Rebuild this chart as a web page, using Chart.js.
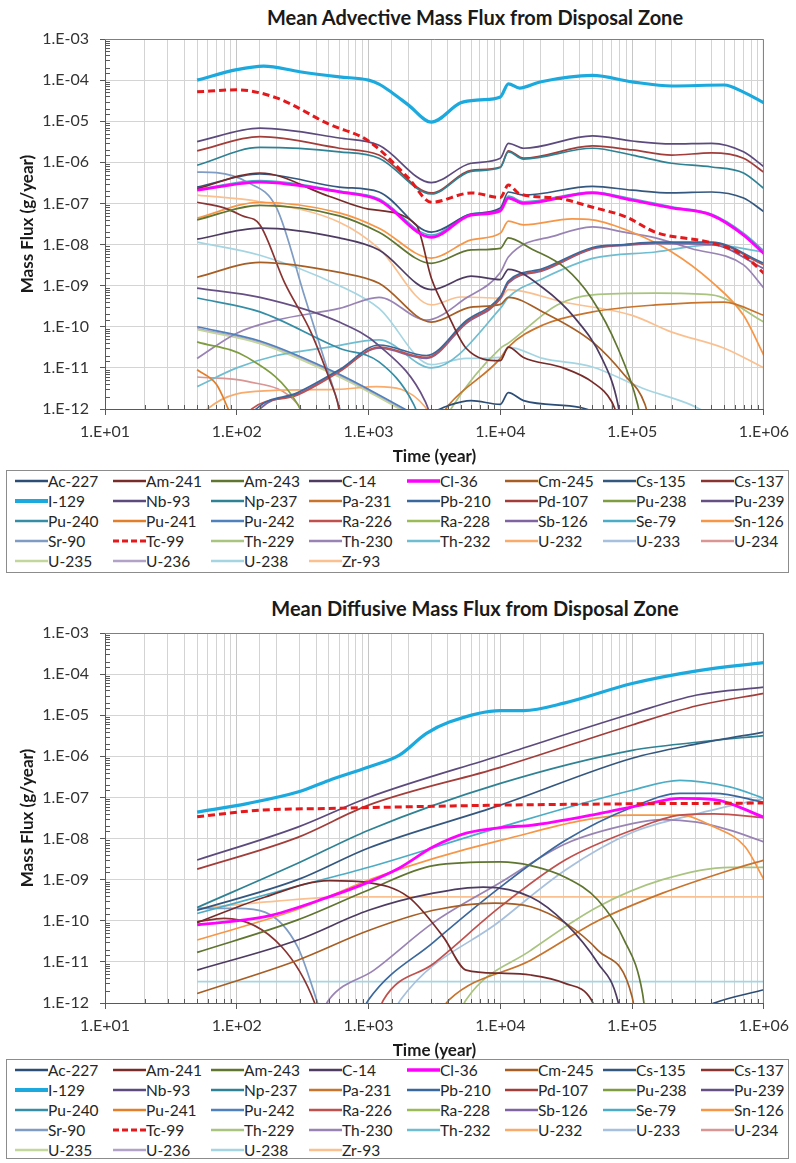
<!DOCTYPE html>
<html>
<head>
<meta charset="utf-8">
<script src="https://cdn.jsdelivr.net/npm/chart.js@4.4.1/dist/chart.umd.min.js"></script>
<style>
  html, body { margin: 0; padding: 0; background: #fff; }
  body { width: 796px; height: 1163px; position: relative; overflow: hidden;
         font-family: Lato, "Open Sans", sans-serif; color: #262626; }
  .title { position: absolute; left: 475px; transform: translateX(-50%); white-space: nowrap;
           font-weight: bold; font-size: 20px; line-height: 24px; color: #1a1a1a; }
  .wrap { position: absolute; left: 0; width: 796px; height: 470px; }
  .legend { position: absolute; left: 6px; width: 783px; border: 1px solid #8c8c8c; box-sizing: border-box; background: #fff; }
  .item { position: absolute; display: flex; align-items: center; height: 18px;
          font-size: 15.5px; white-space: nowrap; }
  .item svg { display: block; }
</style>
</head>
<body>
<div class="title" style="top:5px">Mean Advective Mass Flux from Disposal Zone</div>
<div class="wrap" style="top:0"><canvas id="advChart" width="796" height="470"></canvas></div>
<div class="legend" id="advLegend" style="top:470px;height:103px"></div>

<div class="title" style="top:596px">Mean Diffusive Mass Flux from Disposal Zone</div>
<div class="wrap" style="top:594px"><canvas id="difChart" width="796" height="470"></canvas></div>
<div class="legend" id="difLegend" style="top:1059px;height:100px"></div>

<script>
// nuclides, in legend order
const nuclides = ['Ac-227', 'Am-241', 'Am-243', 'C-14', 'Cl-36', 'Cm-245', 'Cs-135', 'Cs-137',
    'I-129', 'Nb-93', 'Np-237', 'Pa-231', 'Pb-210', 'Pd-107', 'Pu-238', 'Pu-239',
    'Pu-240', 'Pu-241', 'Pu-242', 'Ra-226', 'Ra-228', 'Sb-126', 'Se-79', 'Sn-126',
    'Sr-90', 'Tc-99', 'Th-229', 'Th-230', 'Th-232', 'U-232', 'U-233', 'U-234',
    'U-235', 'U-236', 'U-238', 'Zr-93'];

const colors = ['#2c4d75', '#772c2a', '#5f7530', '#4d3b62', '#ff00ff', '#a65e24', '#34577f', '#8a3432',
    '#1ba9de', '#5c4a7d', '#2e8294', '#c8742c', '#3a679c', '#a23d3a', '#7e9c40', '#664f83',
    '#358ea6', '#e37f2b', '#4f81bd', '#c0504d', '#9bbb59', '#8064a2', '#4bacc6', '#f79646',
    '#7f9cc4', '#e3191c', '#a9c47f', '#9983b5', '#6fbdd1', '#f9ab6b', '#a7c0de', '#d99694',
    '#c3d69b', '#b2a2c7', '#a5d5e2', '#fac090'];

// tick labels
const timeDecades = [1e1, 1e2, 1e3, 1e4, 1e5, 1e6];
const timeLabels = ['1.E+01', '1.E+02', '1.E+03', '1.E+04', '1.E+05', '1.E+06'];
const fluxDecades = [1e-12, 1e-11, 1e-10, 1e-9, 1e-8, 1e-7, 1e-6, 1e-5, 1e-4, 1e-3];
const fluxLabels = ['1.E-12', '1.E-11', '1.E-10', '1.E-09', '1.E-08', '1.E-07', '1.E-06', '1.E-05', '1.E-04', '1.E-03'];

// ---- advective mass flux, [year, g/year] ----
const advAc227 = [[3000, 8e-13], [4000, 1.2e-12], [6000, 1.6e-12], [10000, 1.3e-12], [11500, 2.5e-12], [15000, 1.6e-12], [40000, 1.1e-12], [55000, 8e-13]];
const advAm241 = [[50, 2.3e-7], [150, 5.5e-7], [500, 1.5e-7], [1000, 7.3e-8], [2300, 3e-8], [3000, 1.5e-9], [4000, 2e-10], [5500, 3e-11], [10000, 1.5e-11], [11500, 3.2e-11], [15000, 1.8e-11], [30000, 1e-11], [50000, 4.5e-12], [70000, 1.5e-12], [85000, 3e-13]];
const advAm243 = [[50, 4e-8], [150, 9e-8], [600, 5e-8], [1200, 2e-8], [3000, 3.5e-9], [6000, 7.4e-9], [10000, 8.1e-9], [11500, 1.45e-8], [17000, 8e-9], [31000, 2.7e-9], [49000, 5e-10], [78000, 3e-11], [110000, 1.3e-12], [120000, 3e-13]];
const advC14 = [[50, 1.35e-8], [150, 2.5e-8], [600, 1.45e-8], [1200, 7.4e-9], [3000, 8e-10], [6000, 1.7e-9], [10000, 1.4e-9], [11500, 2.5e-9], [21000, 8.9e-10], [37000, 1.6e-10], [59000, 1.7e-11], [78000, 1.3e-12], [85000, 2e-13]];
const advCl36 = [[50, 2.1e-7], [150, 3.3e-7], [600, 1.9e-7], [1200, 1.2e-7], [3000, 1.5e-8], [6000, 5.2e-8], [10000, 6.6e-8], [11500, 1.35e-7], [15000, 1e-7], [50000, 1.8e-7], [100000, 1.2e-7], [200000, 7.8e-8], [400000, 5.2e-8], [700000, 1.7e-8], [1000000, 6e-9]];
const advCm245 = [[50, 1.6e-9], [150, 3.7e-9], [600, 2.1e-9], [1200, 1.15e-9], [3000, 1.3e-10], [6000, 3e-10], [10000, 3.5e-10], [11500, 5.2e-10], [21000, 2.3e-10], [50000, 4.3e-11], [87000, 6.8e-12], [125000, 1.3e-12], [140000, 3e-13]];
const advCs135 = [[50, 2.5e-7], [150, 5.2e-7], [600, 2.5e-7], [1200, 1.9e-7], [3000, 2e-8], [6000, 5.5e-8], [10000, 7.8e-8], [11500, 1.9e-7], [15000, 1.6e-7], [50000, 2.6e-7], [100000, 2.1e-7], [200000, 1.8e-7], [400000, 1.9e-7], [700000, 1.35e-7], [1000000, 6.3e-8]];
const advCs137 = [[50, 1.07e-7], [80, 7.8e-8], [110, 5e-8], [150, 3e-8], [230, 1.2e-9], [365, 7.4e-11], [515, 4.5e-12], [580, 1.5e-12], [650, 2e-13]];
const advI129 = [[50, 1e-4], [100, 1.8e-4], [160, 2.2e-4], [300, 1.6e-4], [600, 1.2e-4], [1000, 1e-4], [1200, 8e-5], [1500, 5e-5], [2000, 2.5e-5], [3000, 9.5e-6], [5000, 2.8e-5], [7000, 3.3e-5], [10000, 3.9e-5], [11500, 8.1e-5], [14000, 6.4e-5], [20000, 9e-5], [50000, 1.3e-4], [100000, 9.1e-5], [200000, 7.2e-5], [500000, 7.6e-5], [700000, 5.1e-5], [1000000, 2.8e-5]];
const advNb93 = [[50, 3.2e-6], [150, 6.8e-6], [600, 3.9e-6], [1200, 2.6e-6], [3000, 3.2e-7], [6000, 9.5e-7], [10000, 1.26e-6], [11500, 2.9e-6], [15000, 2.2e-6], [50000, 4.4e-6], [100000, 3.3e-6], [200000, 2.8e-6], [400000, 2.9e-6], [700000, 1.8e-6], [1000000, 7.8e-7]];
const advNp237 = [[50, 8.5e-7], [150, 2.3e-6], [600, 1.8e-6], [1200, 1.26e-6], [3000, 1.7e-7], [6000, 6e-7], [10000, 7.5e-7], [11500, 1.8e-6], [15000, 1.2e-6], [50000, 2.2e-6], [100000, 1.5e-6], [200000, 9.5e-7], [400000, 7.7e-7], [700000, 5.5e-7], [1000000, 2.3e-7]];
const advPa231 = [[3000, 3e-13], [4100, 1.3e-12], [10000, 1.7e-11], [11500, 3.2e-11], [21000, 1.1e-10], [50000, 2.3e-10], [150000, 3.4e-10], [500000, 4e-10], [1000000, 1.9e-10]];
const advPb210 = [[110, 3e-13], [140, 1e-12], [290, 2.5e-12], [600, 9e-12], [1200, 3.6e-11], [2750, 2e-11], [5500, 1.4e-10], [10000, 5.5e-10], [11500, 1.3e-9], [21000, 2.6e-9], [50000, 8.5e-9], [87000, 1e-8], [150000, 1.15e-8], [400000, 1.15e-8], [1000000, 3.5e-9]];
const advPd107 = [[50, 1.9e-6], [150, 4.2e-6], [600, 2.2e-6], [1200, 1.5e-6], [3000, 1.8e-7], [6000, 6.4e-7], [10000, 7.7e-7], [11500, 1.9e-6], [15000, 1.26e-6], [50000, 2.5e-6], [100000, 2e-6], [200000, 1.5e-6], [400000, 1.7e-6], [700000, 1.26e-6], [1000000, 5.7e-7]];
const advPu238 = [[50, 4.3e-11], [120, 1.8e-11], [290, 1.3e-12], [350, 3e-13]];
const advPu239 = [[50, 8.7e-10], [150, 5.2e-10], [600, 1.3e-10], [1200, 3.5e-11], [2700, 1.5e-12], [3200, 3e-13]];
const advPu240 = [[50, 5e-10], [150, 2.3e-10], [600, 3e-11], [1200, 1.4e-11], [2200, 1.3e-12], [2600, 3e-13]];
const advPu241 = [[50, 9e-12], [70, 4e-12], [85, 1.1e-12], [100, 3e-13]];
const advPu242 = [[50, 1e-10], [150, 4.5e-11], [600, 7e-12], [1200, 2.2e-12], [2500, 6e-13]];
const advRa226 = [[100, 3e-13], [130, 1e-12], [290, 2.2e-12], [600, 8e-12], [1200, 3.2e-11], [2750, 1.8e-11], [5500, 1.3e-10], [10000, 5e-10], [11500, 1.2e-9], [21000, 2.4e-9], [50000, 8.1e-9], [87000, 9.8e-9], [150000, 1.1e-8], [400000, 1.1e-8], [1000000, 3.2e-9]];
const advRa228 = [];
const advSb126 = [[120, 3e-13], [150, 1e-12], [300, 2.4e-12], [600, 8.5e-12], [1200, 3e-11], [2750, 1.7e-11], [5500, 1.2e-10], [10000, 4.8e-10], [11500, 1.15e-9], [21000, 2.3e-9], [50000, 7.8e-9], [87000, 9.5e-9], [150000, 1.05e-8], [400000, 1e-8], [1000000, 2.6e-9]];
const advSe79 = [[50, 2.2e-7], [150, 3.6e-7], [600, 2e-7], [1200, 1.3e-7], [3000, 1.7e-8], [6000, 5.6e-8], [10000, 7.2e-8], [11500, 1.5e-7], [15000, 1.1e-7], [50000, 1.9e-7], [100000, 1.3e-7], [200000, 8.3e-8], [400000, 5.5e-8], [700000, 1.9e-8], [1000000, 7e-9]];
const advSn126 = [[50, 4.4e-8], [150, 1.07e-7], [600, 5.9e-8], [1200, 2.5e-8], [3000, 4.7e-9], [6000, 1.3e-8], [10000, 1.9e-8], [11500, 3.7e-8], [15000, 3e-8], [35000, 4.2e-8], [50000, 4e-8], [100000, 2e-8], [200000, 6.6e-9], [400000, 1.25e-9], [700000, 1.9e-10], [1000000, 2e-11]];
const advSr90 = [[50, 5.8e-7], [70, 5.6e-7], [120, 3.3e-7], [200, 7.9e-8], [330, 5e-10], [500, 7e-12], [650, 5e-13]];
const advTc99 = [[50, 5.2e-5], [100, 5.8e-5], [200, 3.7e-5], [500, 8.5e-6], [1000, 3.3e-6], [2000, 4.2e-7], [3000, 1.07e-7], [6000, 1.8e-7], [10000, 1.4e-7], [11500, 2.8e-7], [14000, 1.7e-7], [27000, 1.35e-7], [50000, 8.1e-8], [90000, 4.7e-8], [150000, 2e-8], [400000, 1.1e-8], [700000, 5.5e-9], [1000000, 2e-9]];
const advTh229 = [[3500, 3e-13], [4300, 1.1e-12], [10000, 3e-11], [11500, 4e-11], [27000, 3.4e-10], [50000, 6e-10], [150000, 6.6e-10], [400000, 6e-10], [1000000, 1.3e-10]];
const advTh230 = [[50, 1.7e-11], [100, 7e-11], [200, 1.45e-10], [600, 2.8e-10], [1200, 5.2e-10], [2750, 1.45e-10], [5500, 5e-10], [10000, 2.1e-9], [11500, 5e-9], [27000, 1.7e-8], [50000, 2.7e-8], [87000, 2e-8], [150000, 1.45e-8], [280000, 8e-9], [700000, 3.2e-9], [1000000, 8.7e-10]];
const advTh232 = [[50, 3.5e-12], [100, 1e-11], [200, 2e-11], [500, 3.2e-11], [1200, 4.8e-11], [3000, 1e-11], [10000, 2.8e-10], [11500, 5.2e-10], [21000, 1.5e-9], [50000, 4.6e-9], [150000, 6.6e-9], [400000, 9.8e-9], [1000000, 6.6e-9]];
const advU232 = [[50, 3e-13], [60, 1e-12], [180, 2.8e-12], [580, 3e-12], [1150, 3.5e-12], [2700, 1.1e-12], [3000, 5e-13]];
const advU233 = [];
const advU234 = [[50, 6e-12], [120, 4.7e-12], [290, 1.3e-12], [350, 4e-13]];
const advU235 = [[50, 8.5e-11], [150, 3.9e-11], [600, 6e-12], [1200, 1.9e-12], [2500, 5e-13]];
const advU236 = [[50, 9e-11], [150, 4.2e-11], [600, 6.5e-12], [1200, 2e-12], [2500, 5.5e-13]];
const advU238 = [[50, 1.15e-8], [150, 5.5e-9], [600, 1e-9], [1200, 2.8e-10], [3000, 1.2e-11], [5500, 1.7e-11], [10000, 1.8e-11], [11500, 3.2e-11], [21000, 1.7e-11], [50000, 1.05e-11], [120000, 3.2e-12], [280000, 1.26e-12], [400000, 7e-13]];
const advZr93 = [[50, 1.6e-7], [150, 1.1e-7], [600, 3.5e-8], [1200, 8e-9], [3000, 3.4e-10], [5000, 5.3e-10], [10000, 5e-10], [11500, 8e-10], [30000, 4e-10], [100000, 1.9e-10], [200000, 7.4e-11], [500000, 3e-11], [1000000, 1e-11]];

// ---- diffusive mass flux, [year, g/year] ----
const difAc227 = [[300000, 6e-13], [420000, 1e-12], [1000000, 2.1e-12]];
const difAm241 = [[50, 9e-11], [165, 3.8e-10], [500, 9.5e-10], [1000, 8.5e-10], [2000, 3.8e-10], [3700, 4e-11], [5500, 6.3e-12], [10000, 5.3e-12], [17000, 4.8e-12], [31000, 3e-12], [49000, 1.2e-12], [60000, 2e-13]];
const difAm243 = [[50, 1.7e-11], [290, 1.05e-10], [1000, 5.6e-10], [3100, 2.2e-9], [10000, 2.7e-9], [17000, 2.2e-9], [31000, 1.15e-9], [55000, 3.2e-10], [87000, 3.4e-11], [120000, 1.7e-12], [130000, 2e-13]];
const difC14 = [[50, 6.3e-12], [290, 3.4e-11], [1000, 1.8e-10], [3100, 4.7e-10], [7400, 6.6e-10], [17000, 3.8e-10], [31000, 8.9e-11], [55000, 9.3e-12], [78000, 1.1e-12], [85000, 2e-13]];
const difCl36 = [[50, 8e-11], [165, 1.26e-10], [500, 3.8e-10], [1000, 8.7e-10], [1700, 1.9e-9], [3100, 6.3e-9], [5500, 1.35e-8], [11000, 1.9e-8], [17000, 2.1e-8], [55000, 4e-8], [130000, 7e-8], [230000, 9.5e-8], [420000, 8.9e-8], [1000000, 3.3e-8]];
const difCm245 = [[50, 1.7e-12], [290, 1.1e-11], [1000, 5.8e-11], [3100, 1.8e-10], [9000, 2.7e-10], [17000, 2.2e-10], [31000, 8.9e-11], [55000, 1.9e-11], [100000, 1.4e-12], [110000, 2e-13]];
const difCs135 = [[50, 1.8e-10], [290, 1e-9], [1000, 5.9e-9], [10000, 6.5e-8], [100000, 9e-7], [310000, 2e-6], [1000000, 3.9e-6]];
const difCs137 = [[50, 9.5e-11], [80, 1.15e-10], [220, 2.3e-11], [390, 1e-12], [450, 2e-13]];
const difI129 = [[50, 4.4e-8], [120, 7.1e-8], [290, 1.35e-7], [500, 2.6e-7], [1000, 5.5e-7], [1700, 1.05e-6], [2750, 3.6e-6], [4100, 6.8e-6], [10000, 1.3e-5], [15000, 1.3e-5], [31000, 2e-5], [100000, 5.9e-5], [310000, 1.2e-4], [1000000, 1.9e-4]];
const difNb93 = [[50, 3e-9], [290, 1.9e-8], [1000, 1e-7], [10000, 1.05e-6], [100000, 1.1e-5], [310000, 3.1e-5], [1000000, 4.8e-5]];
const difNp237 = [[50, 2.1e-10], [290, 2.5e-9], [1000, 1.6e-8], [10000, 2.2e-7], [100000, 1.4e-6], [310000, 2.2e-6], [1000000, 3.2e-6]];
const difPa231 = [[3000, 3e-13], [4100, 1.2e-12], [17000, 1.1e-11], [55000, 1e-10], [170000, 4.7e-10], [550000, 1.7e-9], [1000000, 3e-9]];
const difPb210 = [[800, 3e-13], [1000, 1.2e-12], [3100, 3e-11], [10000, 6.6e-10], [31000, 9e-9], [100000, 5.8e-8], [230000, 1.26e-7], [420000, 1.26e-7], [1000000, 7.6e-8]];
const difPd107 = [[50, 1.8e-9], [290, 1.07e-8], [1000, 6.5e-8], [10000, 5.4e-7], [100000, 5.8e-6], [310000, 1.7e-5], [1000000, 3.4e-5]];
const difPu238 = [];
const difPu239 = [];
const difPu240 = [];
const difPu241 = [];
const difPu242 = [];
const difRa226 = [[1100, 3e-13], [1300, 1.2e-12], [3100, 9e-12], [10000, 2.2e-10], [31000, 3e-9], [100000, 1.6e-8], [230000, 3.7e-8], [420000, 4e-8], [1000000, 3.2e-8]];
const difRa228 = [];
const difSb126 = [];
const difSe79 = [[50, 1.5e-10], [290, 7e-10], [1000, 2e-9], [10000, 1.9e-8], [100000, 1.5e-7], [230000, 2.6e-7], [550000, 1.8e-7], [1000000, 9.5e-8]];
const difSn126 = [[50, 3.4e-11], [290, 1.9e-10], [1100, 1.1e-9], [10000, 9e-9], [100000, 3.7e-8], [230000, 3.7e-8], [420000, 1.9e-8], [720000, 6.3e-9], [1000000, 1e-9]];
const difSr90 = [[50, 2e-10], [100, 2e-10], [165, 1.6e-10], [290, 2.3e-11], [410, 1e-12], [480, 2e-13]];
const difTc99 = [[50, 3.4e-8], [150, 4.9e-8], [500, 5.4e-8], [1100, 5.7e-8], [10000, 6.5e-8], [100000, 7e-8], [1000000, 7.3e-8]];
const difTh229 = [[4500, 3e-13], [5500, 1.2e-12], [17000, 1.9e-11], [55000, 2.2e-10], [170000, 1e-9], [550000, 2e-9], [1000000, 2e-9]];
const difTh230 = [[400, 3e-13], [500, 1.2e-12], [1100, 6.3e-12], [3100, 9e-11], [10000, 8.5e-10], [31000, 7.4e-9], [100000, 2.3e-8], [170000, 2.9e-8], [310000, 2.5e-8], [550000, 1.6e-8], [1000000, 8.3e-9]];
const difTh232 = [];
const difU232 = [];
const difU233 = [[1400, 3e-13], [1750, 1.2e-12], [10000, 1e-10], [31000, 1.7e-9], [100000, 1.4e-8], [310000, 4e-8], [1000000, 9.5e-8]];
const difU234 = [];
const difU235 = [];
const difU236 = [];
const difU238 = [[50, 3.3e-12], [1000, 3.3e-12], [100000, 3.3e-12], [1000000, 3.3e-12]];
const difZr93 = [[50, 2e-10], [200, 3e-10], [500, 3.7e-10], [1000, 3.8e-10], [1000000, 3.8e-10]];

const advectiveSeries = [advAc227, advAm241, advAm243, advC14, advCl36, advCm245, advCs135, advCs137,
    advI129, advNb93, advNp237, advPa231, advPb210, advPd107, advPu238, advPu239,
    advPu240, advPu241, advPu242, advRa226, advRa228, advSb126, advSe79, advSn126,
    advSr90, advTc99, advTh229, advTh230, advTh232, advU232, advU233, advU234,
    advU235, advU236, advU238, advZr93];
const diffusiveSeries = [difAc227, difAm241, difAm243, difC14, difCl36, difCm245, difCs135, difCs137,
    difI129, difNb93, difNp237, difPa231, difPb210, difPd107, difPu238, difPu239,
    difPu240, difPu241, difPu242, difRa226, difRa228, difSb126, difSe79, difSn126,
    difSr90, difTc99, difTh229, difTh230, difTh232, difU232, difU233, difU234,
    difU235, difU236, difU238, difZr93];

const FONT = 'Lato, "Open Sans", sans-serif';

function isDecade(v) {
    const l = Math.log10(v);
    return Math.abs(l - Math.round(l)) < 1e-6;
}

function labelFor(v, decades, labels) {
    if (!isDecade(v)) return '';
    const i = decades.findIndex(d => Math.abs(Math.log10(d) - Math.log10(v)) < 1e-6);
    return i >= 0 ? labels[i] : '';
}

// line look per nuclide (the three highlighted ones are heavier)
function lineStyle(name) {
    if (name === 'I-129') return { width: 3.2, legend: 4, dash: null, order: -2 };
    if (name === 'Tc-99') return { width: 3, legend: 3, dash: [7, 4], order: -3 };
    if (name === 'Cl-36') return { width: 2.8, legend: 3.5, dash: null, order: -1 };
    return { width: 1.7, legend: 2.5, dash: null, order: 0 };
}

function makeDatasets(seriesList) {
    return nuclides.map((name, i) => {
        const st = lineStyle(name);
        return {
            label: name,
            data: seriesList[i].map(([t, v]) => ({ x: t, y: v })),
            borderColor: colors[i],
            backgroundColor: colors[i],
            borderWidth: st.width,
            borderDash: st.dash || [],
            pointRadius: 0,
            fill: false,
            cubicInterpolationMode: 'monotone',
            order: st.order
        };
    });
}

const axisDecor = {
    id: 'axisDecor',
    afterDraw(chart) {
        const { ctx, chartArea: a, scales } = chart;
        ctx.save();
        ctx.lineWidth = 1;
        // top and right edge of the plot
        ctx.strokeStyle = '#7f7f7f';
        ctx.beginPath();
        ctx.moveTo(a.left, a.top + 0.5);
        ctx.lineTo(a.right - 0.5, a.top + 0.5);
        ctx.lineTo(a.right - 0.5, a.bottom);
        ctx.stroke();
        // minor tick marks inside the axes
        ctx.strokeStyle = '#595959';
        ctx.beginPath();
        scales.x.ticks.forEach(t => {
            if (isDecade(t.value)) return;
            const px = Math.round(scales.x.getPixelForValue(t.value)) + 0.5;
            ctx.moveTo(px, a.bottom);
            ctx.lineTo(px, a.bottom - 4);
        });
        scales.y.ticks.forEach(t => {
            if (isDecade(t.value)) return;
            const py = Math.round(scales.y.getPixelForValue(t.value)) + 0.5;
            ctx.moveTo(a.left, py);
            ctx.lineTo(a.left + 5, py);
        });
        ctx.stroke();
        ctx.restore();
    }
};

function makeChart(canvasId, seriesList) {
    const ctx = document.getElementById(canvasId).getContext('2d');
    return new Chart(ctx, {
        type: 'line',
        data: { datasets: makeDatasets(seriesList) },
        options: {
            responsive: false,
            animation: false,
            layout: { padding: { top: 39, right: 25, left: 0, bottom: 0 } },
            plugins: {
                legend: { display: false },
                tooltip: { enabled: false },
                title: { display: false }
            },
            scales: {
                x: {
                    type: 'logarithmic',
                    min: 10,
                    max: 1e6,
                    afterFit: s => { s.height = 61; },
                    border: { color: '#595959', width: 1 },
                    grid: {
                        color: c => (c.tick && isDecade(c.tick.value)) ? '#c6c6c6' : '#d3d3d3',
                        tickColor: c => (c.tick && isDecade(c.tick.value)) ? '#595959' : 'rgba(0,0,0,0)',
                        tickLength: 6,
                        lineWidth: 1
                    },
                    ticks: {
                        autoSkip: false,
                        maxRotation: 0,
                        padding: 7,
                        color: '#333',
                        font: { family: FONT, size: 16 },
                        callback: v => labelFor(v, timeDecades, timeLabels)
                    },
                    title: {
                        display: true,
                        text: 'Time (year)',
                        color: '#1a1a1a',
                        font: { family: FONT, size: 17, weight: 'bold' },
                        padding: { top: 0, bottom: 3 }
                    }
                },
                y: {
                    type: 'logarithmic',
                    min: 1e-12,
                    max: 1e-3,
                    afterFit: s => { s.width = 105; },
                    border: { color: '#595959', width: 1 },
                    grid: {
                        color: c => (c.tick && isDecade(c.tick.value)) ? '#d4d4d4' : 'rgba(0,0,0,0)',
                        tickColor: c => (c.tick && isDecade(c.tick.value)) ? '#595959' : 'rgba(0,0,0,0)',
                        tickLength: 5,
                        lineWidth: 1
                    },
                    ticks: {
                        autoSkip: false,
                        padding: 11,
                        color: '#333',
                        font: { family: FONT, size: 16 },
                        callback: v => labelFor(v, fluxDecades, fluxLabels)
                    },
                    title: {
                        display: true,
                        text: 'Mass Flux (g/year)',
                        color: '#1a1a1a',
                        font: { family: FONT, size: 17, weight: 'bold' },
                        padding: { top: 17, bottom: 0 }
                    }
                }
            }
        },
        plugins: [axisDecor]
    });
}

function buildLegend(boxId) {
    const box = document.getElementById(boxId);
    nuclides.forEach((name, i) => {
        const col = i % 8;
        const row = Math.floor(i / 8);
        const st = lineStyle(name);
        const item = document.createElement('div');
        item.className = 'item';
        item.style.left = (8 + col * 98) + 'px';
        item.style.top = (1 + row * 20) + 'px';
        const dash = st.dash ? ' stroke-dasharray="6,3"' : '';
        item.innerHTML = '<svg width="33" height="8"><line x1="0" y1="4" x2="33" y2="4" stroke="' +
            colors[i] + '" stroke-width="' + st.legend + '"' + dash + '/></svg><span>' + name + '</span>';
        box.appendChild(item);
    });
}

makeChart('advChart', advectiveSeries);
makeChart('difChart', diffusiveSeries);
buildLegend('advLegend');
buildLegend('difLegend');
</script>
</body>
</html>
